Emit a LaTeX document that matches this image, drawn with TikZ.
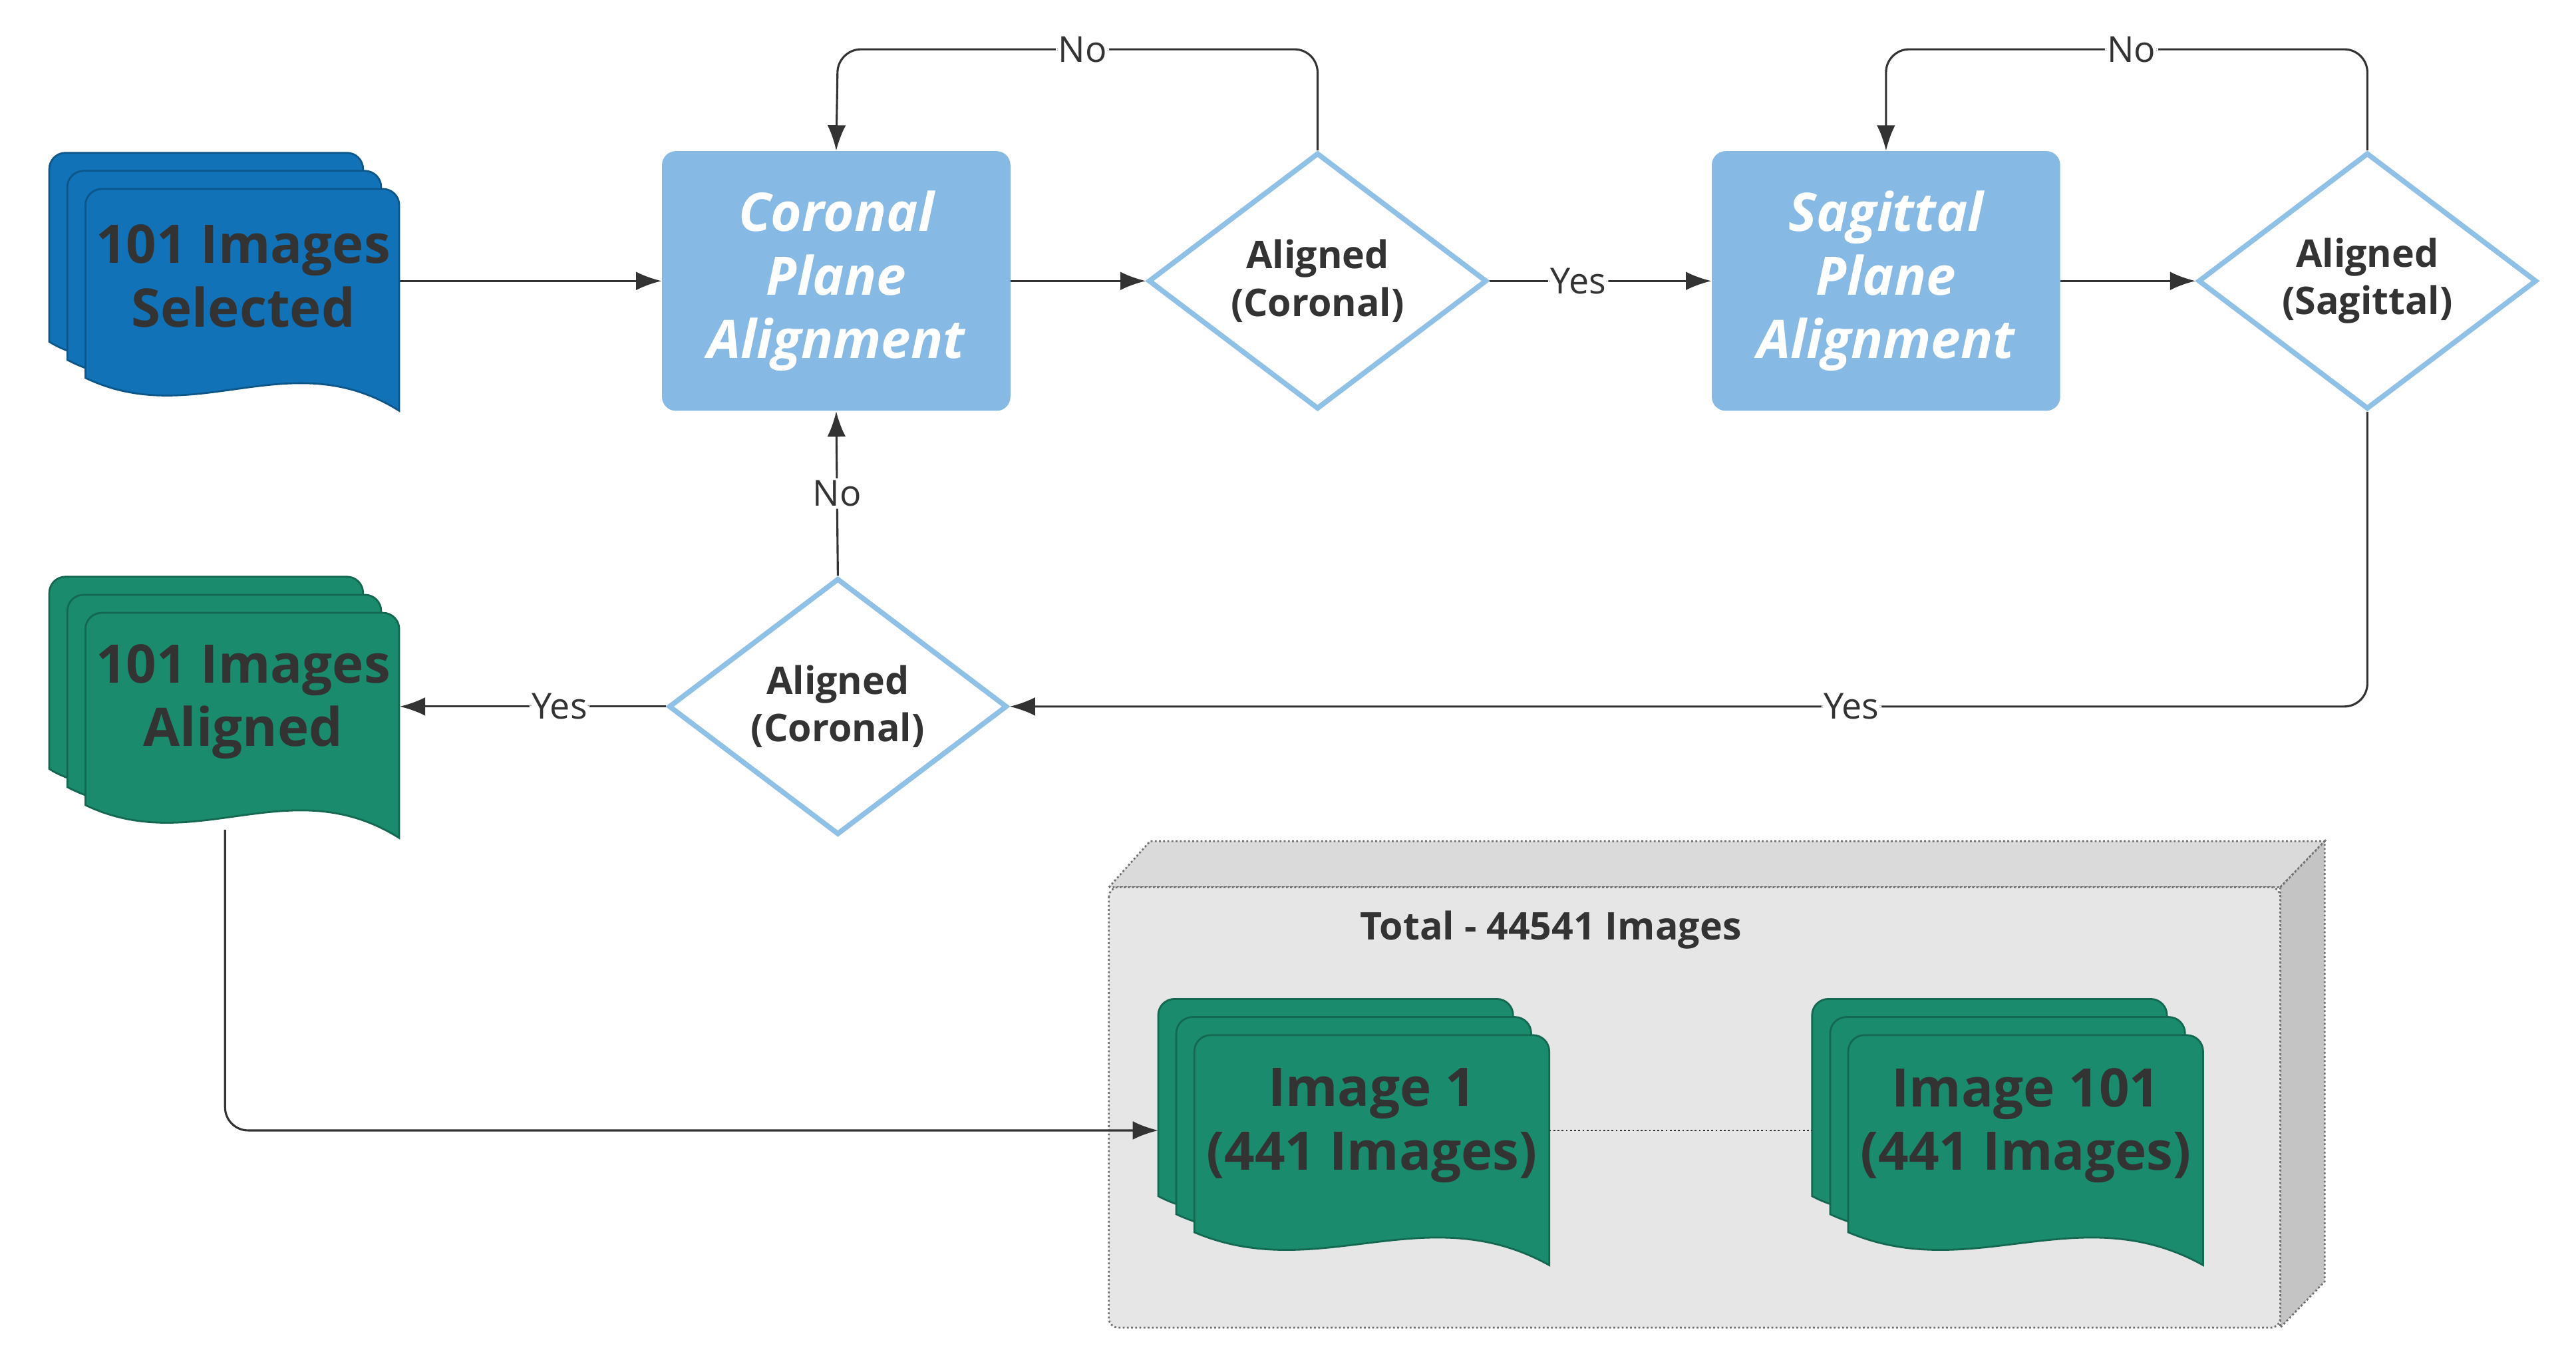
\documentclass[tikz,border=0pt]{standalone}
\usepackage{fontspec}
\setmainfont{Open Sans}
\usetikzlibrary{shapes.geometric,arrows.meta,calc}
\definecolor{dblue}{HTML}{1172B8}
\definecolor{lblue}{HTML}{86B9E4}
\definecolor{dborder}{HTML}{8FC0E6}
\definecolor{dgreen}{HTML}{1A8B6C}
\definecolor{txt}{HTML}{333333}
\definecolor{boxg}{HTML}{E6E6E6}
\definecolor{boxs}{HTML}{C4C4C4}
\definecolor{boxt}{HTML}{DADADA}
\newcommand\docpath[5]{% x0 y0 x1 y1 color
  \path[fill=#5,draw=#5!75!black,line width=0.8pt,rounded corners=7pt]
   (#1,#4-20) -- (#1,#2) -- (#3,#2) [sharp corners] -- (#3,#4)
   .. controls ({#3-0.35*(#3-#1)},{#4-42}) and ({#1+0.35*(#3-#1)},{#4+12}) .. (#1,#4-20) -- cycle;}
\newcommand\docstack[5]{%
  \docpath{#1-22}{#2-22}{#3-22}{#4-22}{#5}
  \docpath{#1-11}{#2-11}{#3-11}{#4-11}{#5}
  \docpath{#1}{#2}{#3}{#4}{#5}}
\begin{document}
\begin{tikzpicture}[x=0.025cm,y=-0.025cm,
  line/.style={draw=txt,line width=0.9pt,rounded corners=10pt},
  arr/.style={line,-{Latex[length=11pt,width=8pt]}},
  proc/.style={fill=lblue,rounded corners=6pt,minimum width=5.3cm,minimum height=3.95cm,
    text=white,font=\fontsize{23}{27.5}\selectfont\bfseries\itshape,align=center},
  dec/.style={diamond,draw=dborder,fill=white,line width=2.2pt,minimum width=5.15cm,
    minimum height=3.9cm,inner sep=0pt,text=txt,font=\fontsize{16.5}{20.5}\selectfont\bfseries,align=center},
  doctext/.style={text=txt,font=\fontsize{23}{27.5}\selectfont\bfseries,align=center},
  lab/.style={fill=white,inner sep=1pt,text=txt,font=\fontsize{15.5}{18}\selectfont},
  anchorbox/.style={minimum width=4.775cm,minimum height=3.4cm,inner sep=0pt}]
\useasboundingbox (0,0) rectangle (1568,828.6);
% container
\path[fill=boxt,draw=txt!70,densely dotted,line width=0.8pt] (675,540) -- (700,512) -- (1415,512) -- (1388,540) -- cycle;
\path[fill=boxs,draw=txt!70,densely dotted,line width=0.8pt] (1388,540) -- (1415,512) -- (1415,780) -- (1388,808) -- cycle;
\path[fill=boxg,draw=txt!70,densely dotted,line width=0.8pt,rounded corners=4pt] (675,540) rectangle (1388,808);
\node[text=txt,font=\fontsize{16.5}{20}\selectfont\bfseries] (tot) at (944,566) {Total - 44541 Images};
% documents
\docstack{52}{115}{243}{250}{dblue}
\node[anchorbox] (sel) at (147.5,182) {};
\node[doctext] (selt) at (148,168) {101 Images\\Selected};
\docstack{52}{373}{243}{510}{dgreen}
\node[anchorbox] (al) at (147.5,441) {};
\node[doctext] (alt) at (148,427) {101 Images\\Aligned};
\docstack{727}{630}{943}{770}{dgreen}
\node[anchorbox,minimum width=5.4cm] (im1) at (835,700) {};
\node[doctext] (im1t) at (835,685) {Image 1\\(441 Images)};
\docstack{1125}{630}{1341}{770}{dgreen}
\node[anchorbox,minimum width=5.4cm] (im2) at (1233,700) {};
\node[doctext] (im2t) at (1233,685) {Image 101\\(441 Images)};
% process and decisions
\node[proc] (cor) at (509,171) {Coronal\\Plane\\Alignment};
\node[proc] (sag) at (1148,171) {Sagittal\\Plane\\Alignment};
\node[dec] (d1) at (802,171) {Aligned\\(Coronal)};
\node[dec] (d2) at (1441,171) {Aligned\\(Sagittal)};
\node[dec] (d3) at (510,430) {Aligned\\(Coronal)};
\coordinate (alb) at (137,505);
\coordinate (im1b) at (705,688);
\coordinate (im2b) at (1103,688);
% connectors
\draw[arr] (sel.east |- cor) -- (cor);
\draw[arr] (cor) -- (d1);
\draw[arr] (d1) -- node[lab,pos=0.4]{Yes} (sag);
\draw[arr] (sag) -- (d2);
\draw[arr] (d1.north) -- (802,30) -- node[lab,pos=0.49]{No} (510,30) -- (cor.north);
\draw[arr] (d2.north) -- (1441,30) -- node[lab,pos=0.49]{No} (1148,30) -- (sag.north);
\draw[arr] (d2.south) -- (1441,430) -- node[lab,pos=0.38]{Yes} (d3.east);
\draw[arr] (d3.north) -- node[lab,pos=0.5]{No} (cor.south);
\draw[arr] (d3.west) -- node[lab,pos=0.4]{Yes} (al.east |- d3);
\draw[arr] (alb) -- (137,688) -- (im1b);
\draw[draw=txt,densely dotted,line width=0.8pt] (943,688) -- (im2b);
\end{tikzpicture}
\end{document}
